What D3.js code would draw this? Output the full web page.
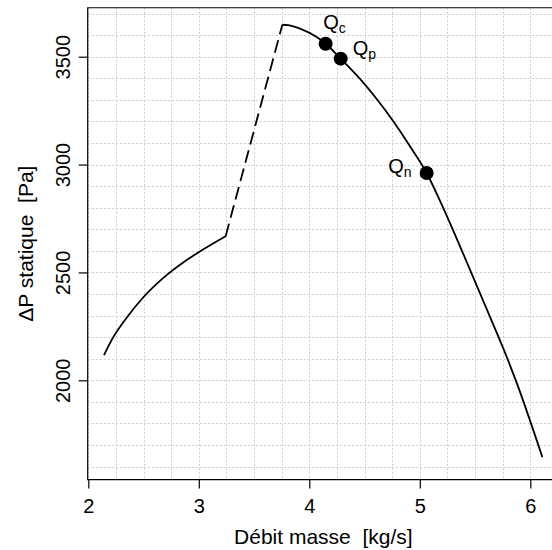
<!DOCTYPE html>
<html><head><meta charset="utf-8">
<script src="https://cdn.jsdelivr.net/npm/d3@7"></script>
<style>body{margin:0;background:#fff}svg{display:block}text{font-family:"Liberation Sans",Arial,sans-serif;fill:#000;white-space:pre}</style>
</head><body><svg id="c" width="552" height="550"></svg>
<script>
// Low-flow branch (solid)
const lowX = [2.142, 2.226, 2.347, 2.498, 2.679, 2.875, 3.041, 3.243];
const lowY = [2117, 2200, 2290, 2385, 2475, 2552, 2607, 2668];
// Stall transition (dashed)
const dashX = [3.243, 3.756];
const dashY = [2668, 3648];
// Main branch (solid)
const mainX = [3.756, 3.810, 3.916, 4.067, 4.148, 4.284, 4.459, 4.610, 4.760, 4.911, 5.062, 5.183, 5.303, 5.424, 5.545, 5.665, 5.786, 5.877, 6.109];
const mainY = [3648, 3646, 3630, 3591, 3560, 3491, 3397, 3304, 3201, 3085, 2961, 2832, 2694, 2549, 2403, 2258, 2109, 1988, 1644];
// Operating points
const ptNames = ["Q", "Q", "Q"];
const ptSubs = ["c", "p", "n"];
const ptX = [4.148, 4.284, 5.062];
const ptY = [3560, 3491, 2961];
// Ticks
const xTicks = [2, 3, 4, 5, 6];
const yTicks = [2000, 2500, 3000, 3500];
const xLabel = "Débit masse  [kg/s]";
const yLabel = "ΔP statique  [Pa]";

const svg = d3.select("#c");
const x = d3.scaleLinear().domain([2, 6]).range([88.3, 530.3]);
const y = d3.scaleLinear().domain([2000, 3500]).range([380.3, 56.7]);
const xMin = 1.9945, xMax = 6.26, yMin = 1540, yMax = 3727;
const L = x(xMin), R = x(xMax), T = y(yMax), B = y(yMin);

// grid
const gx = d3.range(2, 6.26, 0.25), gy = d3.range(1600, 3701, 100);
const grid = svg.append("g").attr("stroke", "#cccccc").attr("stroke-width", 1).attr("stroke-dasharray", "2,2");
grid.selectAll("line.v").data(gx).join("line").attr("class","v")
  .attr("x1", d => Math.round(x(d)) + 0.5).attr("x2", d => Math.round(x(d)) + 0.5).attr("y1", T).attr("y2", B);
grid.selectAll("line.h").data(gy).join("line").attr("class","h")
  .attr("y1", d => Math.round(y(d)) + 0.5).attr("y2", d => Math.round(y(d)) + 0.5).attr("x1", L).attr("x2", R);

// frame
svg.append("path").attr("d", `M${R},${T}H${L}V${B}H${R}`).attr("fill", "none").attr("stroke", "#000").attr("stroke-width", 1.2);

// axes
const xa = svg.append("g").attr("transform", `translate(0,${B})`)
  .call(d3.axisBottom(x).tickValues(xTicks).tickSize(9).tickPadding(5).tickFormat(d3.format("d")));
xa.select(".domain").remove();
xa.selectAll("line").attr("stroke", "#000").attr("stroke-width", 1.2);
xa.selectAll("text").attr("font-size", 20).attr("dy", null).attr("y", 33.5);

const ya = svg.append("g").attr("transform", `translate(${L},0)`)
  .call(d3.axisLeft(y).tickValues(yTicks).tickSize(9).tickFormat(d3.format("d")));
ya.select(".domain").remove();
ya.selectAll("line").attr("stroke", "#000").attr("stroke-width", 1.2);
ya.selectAll("text").attr("font-size", 20).attr("x", null).attr("dy", null)
  .attr("text-anchor", "middle").attr("transform", `translate(-18,0) rotate(-90)`);

svg.append("text").attr("x", (L + R) / 2).attr("y", 544).attr("text-anchor", "middle").attr("font-size", 21).text(xLabel);
svg.append("text").attr("transform", `translate(33,${(T + B) / 2}) rotate(-90)`).attr("text-anchor", "middle").attr("font-size", 21).text(yLabel);

// curves
const line = d3.line().x(d => x(d[0])).y(d => y(d[1])).curve(d3.curveMonotoneX);
const g = svg.append("g").attr("fill", "none").attr("stroke", "#000").attr("stroke-width", 1.8);
g.append("path").attr("d", line(lowX.map((v, i) => [v, lowY[i]])));
g.append("path").attr("d", d3.line().x(d => x(d[0])).y(d => y(d[1]))(dashX.map((v, i) => [v, dashY[i]]))).attr("stroke-dasharray", "13,6");
g.append("path").attr("d", line(mainX.map((v, i) => [v, mainY[i]])));

// points
svg.selectAll("circle.pt").data(ptX).join("circle").attr("class", "pt")
  .attr("cx", d => x(d)).attr("cy", (d, i) => y(ptY[i])).attr("r", 7).attr("fill", "#000");

const off = [[-2.5, -15, "start"], [12, -3.5, "start"], [-15, 0.5, "end"]];
ptX.forEach((v, i) => {
  const t = svg.append("text").attr("x", x(v) + off[i][0]).attr("y", y(ptY[i]) + off[i][1])
    .attr("text-anchor", off[i][2]).attr("font-size", 20);
  t.append("tspan").text(ptNames[i]);
  t.append("tspan").attr("font-size", 14).attr("dy", 4).text(ptSubs[i]);
});
</script></body></html>
